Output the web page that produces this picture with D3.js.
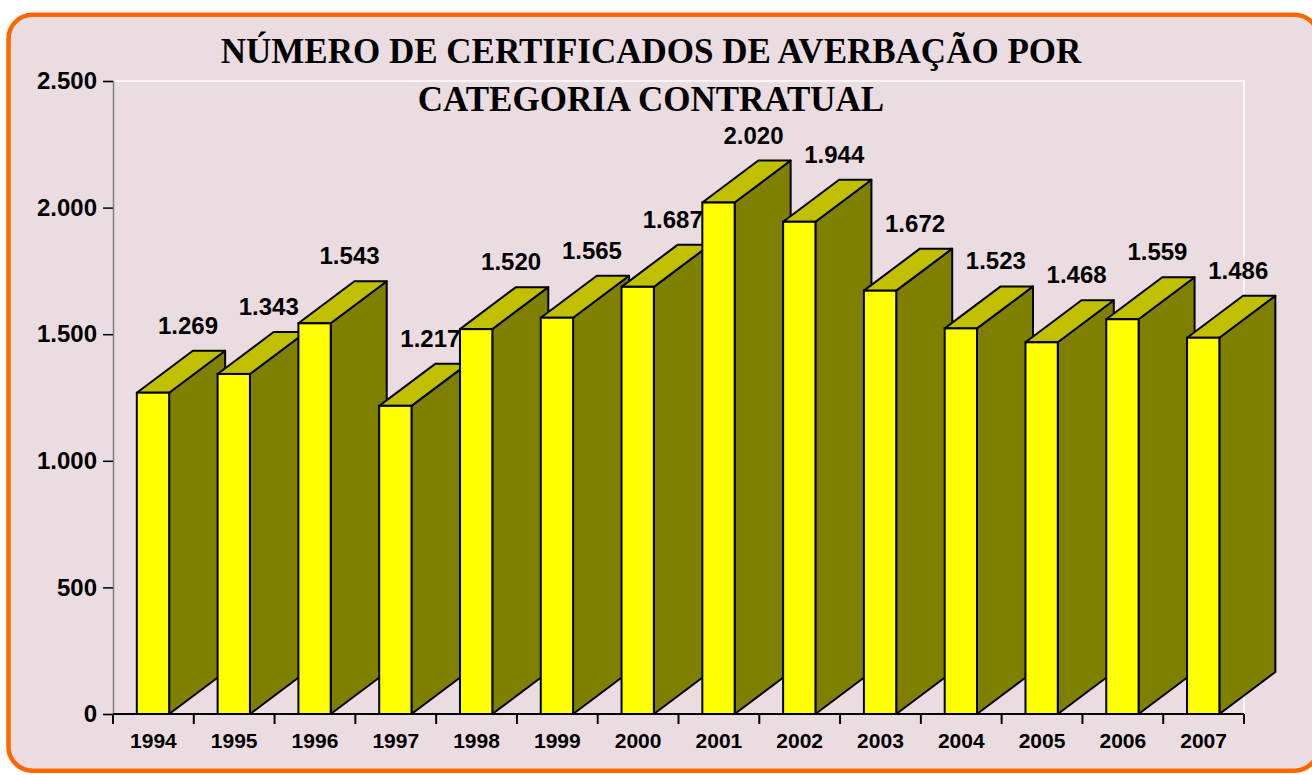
<!DOCTYPE html>
<html>
<head>
<meta charset="utf-8">
<script src="https://cdn.jsdelivr.net/npm/d3@7"></script>
<style>
  html, body { margin: 0; padding: 0; background: #ffffff; }
  svg { display: block; }
</style>
</head>
<body>
<svg id="chart" width="1312" height="775"></svg>
<script>
// dados do grafico
var years = ["1994", "1995", "1996", "1997", "1998", "1999", "2000",
             "2001", "2002", "2003", "2004", "2005", "2006", "2007"];
var values = [1269, 1343, 1543, 1217, 1520, 1565, 1687,
              2020, 1944, 1672, 1523, 1468, 1559, 1486];
var yTicks = [0, 500, 1000, 1500, 2000, 2500];
var titleLines = ["NÚMERO DE CERTIFICADOS DE AVERBAÇÃO POR", "CATEGORIA CONTRATUAL"];

var svg = d3.select("#chart");
var fmt = function(v) { return d3.format(",")(v).replace(/,/g, "."); };

// fundo e moldura laranja
svg.append("rect")
    .attr("x", 8.5).attr("y", 14.7)
    .attr("width", 1310).attr("height", 756)
    .attr("rx", 24).attr("ry", 24)
    .attr("fill", "#ebdce1")
    .attr("stroke", "#ff6600")
    .attr("stroke-width", 4.5);

var pLeft = 113, pRight = 1244, pTop = 81, pBottom = 714;
var dx = 56, dy = 42;

var x = d3.scaleBand().domain(years).range([pLeft, pRight]).padding(0);
var y = d3.scaleLinear().domain([0, 2500]).range([pBottom, pTop]);
var bw = x.bandwidth();

// area do grafico (borda branca em cima e a direita)
svg.append("path")
    .attr("d", "M" + pLeft + "," + pTop + "H" + pRight + "V" + pBottom)
    .attr("fill", "none")
    .attr("stroke", "#ffffff")
    .attr("stroke-width", 1.5);

// titulo
svg.append("text")
    .attr("text-anchor", "middle")
    .attr("font-family", "'Liberation Serif', 'Times New Roman', serif")
    .attr("font-weight", "bold")
    .attr("font-size", "35px")
    .selectAll("tspan").data(titleLines).enter().append("tspan")
    .attr("x", 651)
    .attr("y", function(d, i) { return 63 + i * 48; })
    .text(function(d) { return d; });

// eixo y
var yAxis = svg.append("g")
    .attr("transform", "translate(" + pLeft + ",0)")
    .call(d3.axisLeft(y).tickValues(yTicks).tickSize(10).tickPadding(6).tickFormat(fmt));
yAxis.select(".domain").attr("stroke", "#808080").attr("stroke-width", 1.5);
yAxis.selectAll(".tick line").attr("stroke", "#000").attr("stroke-width", 1.5);
yAxis.selectAll(".tick text")
    .attr("font-family", "'Liberation Sans', Arial, sans-serif")
    .attr("font-weight", "bold")
    .attr("font-size", "24px")
    .attr("fill", "#000");

// barras 3D
var bars = svg.selectAll("g.bar").data(values).enter().append("g").attr("class", "bar");

function x0(d, i) { return x(years[i]) + bw * 0.295; }
function x1(d, i) { return x0(d, i) + bw * 0.4; }

bars.append("path")
    .attr("d", function(d, i) {
        var a = x1(d, i), t = y(d);
        return "M" + a + "," + pBottom + "V" + t + "L" + (a + dx) + "," + (t - dy) +
               "V" + (pBottom - dy) + "Z";
    })
    .attr("fill", "#808000")
    .attr("stroke", "#000").attr("stroke-width", 2).attr("stroke-linejoin", "round");

bars.append("path")
    .attr("d", function(d, i) {
        var a = x0(d, i), b = x1(d, i), t = y(d);
        return "M" + a + "," + t + "L" + (a + dx) + "," + (t - dy) + "H" + (b + dx) +
               "L" + b + "," + t + "Z";
    })
    .attr("fill", "#c0c000")
    .attr("stroke", "#000").attr("stroke-width", 2).attr("stroke-linejoin", "round");

bars.append("rect")
    .attr("x", function(d, i) { return x0(d, i); })
    .attr("y", function(d) { return y(d); })
    .attr("width", bw * 0.4)
    .attr("height", function(d) { return pBottom - y(d); })
    .attr("fill", "#ffff00")
    .attr("stroke", "#000").attr("stroke-width", 2);

// rotulos de valor
bars.append("text")
    .attr("x", function(d, i) { return x0(d, i) + bw * 0.2 + 35; })
    .attr("y", function(d) { return y(d) - dy - 17; })
    .attr("text-anchor", "middle")
    .attr("font-family", "'Liberation Sans', Arial, sans-serif")
    .attr("font-weight", "bold")
    .attr("font-size", "24px")
    .text(fmt);

// eixo x
var xAxis = svg.append("g")
    .attr("transform", "translate(0," + pBottom + ")");
xAxis.append("line")
    .attr("x1", pLeft).attr("x2", pRight)
    .attr("stroke", "#000").attr("stroke-width", 2);
xAxis.selectAll("line.tk").data(years.concat(["end"])).enter().append("line")
    .attr("class", "tk")
    .attr("x1", function(d) { return d == "end" ? pRight : x(d); })
    .attr("x2", function(d) { return d == "end" ? pRight : x(d); })
    .attr("y1", 0).attr("y2", 10)
    .attr("stroke", "#000").attr("stroke-width", 2);
xAxis.selectAll("text").data(years).enter().append("text")
    .attr("x", function(d) { return x(d) + bw / 2; })
    .attr("y", 34)
    .attr("text-anchor", "middle")
    .attr("font-family", "'Liberation Sans', Arial, sans-serif")
    .attr("font-weight", "bold")
    .attr("font-size", "21px")
    .text(function(d) { return d; });
</script>
</body>
</html>
